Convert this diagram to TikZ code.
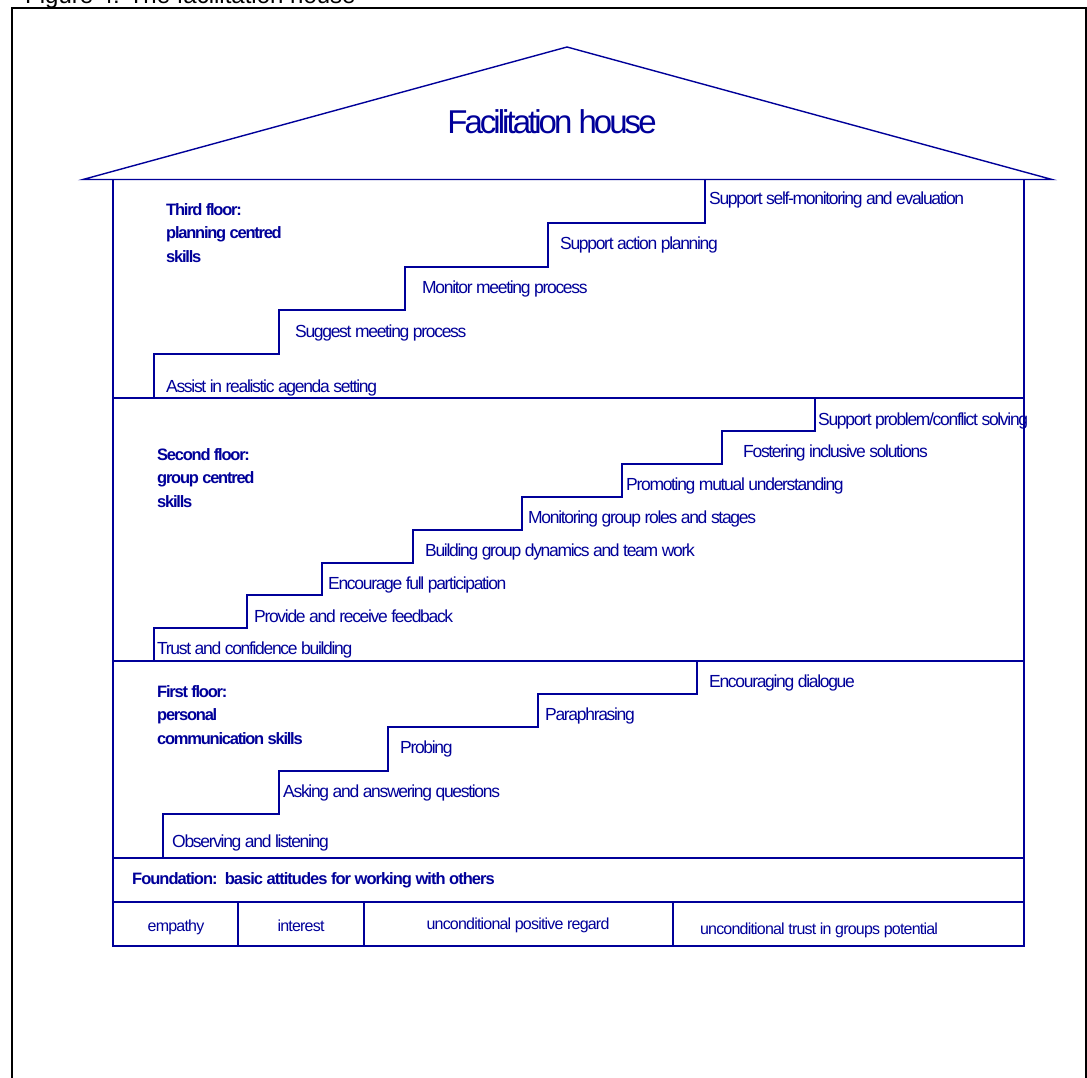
\documentclass[tikz,border=0pt]{standalone}
\usepackage{fontspec}
\setmainfont{Liberation Sans}
\newfontfamily\houseFont[LetterSpace=-7.5]{Liberation Sans}
\definecolor{houseBlue}{RGB}{0,0,153}
\colorlet{frameColor}{black}
\tikzset{
  houseLine/.style={houseBlue,line width=1.4pt},
  stepLabel/.style={anchor=base west,inner sep=0pt,text=houseBlue,font=\houseFont\fontsize{17.5}{20}\selectfont},
  floorHead/.style={anchor=base west,inner sep=0pt,align=left,text=houseBlue,font=\houseFont\bfseries\fontsize{16.5}{23.5}\selectfont},
  attitude/.style={anchor=base,inner sep=0pt,text=houseBlue,font=\houseFont\addfontfeatures{LetterSpace=-5}\fontsize{16}{18}\selectfont}
}
\begin{document}
\begin{tikzpicture}[x=1pt,y=-1pt]
\useasboundingbox (0,0) rectangle (1087,1078);
\clip (0,0) rectangle (1087,1078);
% caption and frame
\node[anchor=base west,inner sep=0pt,font=\fontsize{24}{28}\selectfont] (caption) at (25,4) {Figure 4: The facilitation house};
\draw[frameColor,line width=2pt] (11.5,1100) -- (11.5,8) -- (1085.5,8) -- (1085.5,1100);
% roof
\draw[houseLine] (83,179.5) -- (567,47) -- (1052,179.5) -- cycle;
\node[anchor=base,inner sep=0pt,text=houseBlue,font=\houseFont\addfontfeatures{LetterSpace=-9}\fontsize{33}{36}\selectfont] (title) at (552,134) {Facilitation house};
% walls and floors
\draw[houseLine] (113,179.5) -- (113,946) -- (1024,946) -- (1024,179.5);
\draw[houseLine] (113,398) -- (1024,398);
\draw[houseLine] (113,661) -- (1024,661);
\draw[houseLine] (113,858) -- (1024,858);
\draw[houseLine] (113,902) -- (1024,902);
\draw[houseLine] (238,902) -- (238,946) (364,902) -- (364,946) (673,902) -- (673,946);
% third floor (node base = last line)
\node[floorHead] (thirdHead) at (166,262) {Third floor:\\planning centred\\skills};
\draw[houseLine] (154,398) |- (279,354) |- (405,310) |- (548,267) |- (705,223) -- (705,179.5);
\node[stepLabel] (agenda) at (166,392) {Assist in realistic agenda setting};
\node[stepLabel] (suggest) at (295,337) {Suggest meeting process};
\node[stepLabel] (monitor) at (422,293) {Monitor meeting process};
\node[stepLabel] (action) at (560,249) {Support action planning};
\node[stepLabel] (evaluation) at (709,205) {Support self-monitoring and evaluation};
% second floor
\node[floorHead] (secondHead) at (157,507) {Second floor:\\group centred\\skills};
\draw[houseLine] (154,661) |- (247,628) |- (322,595) |- (413,563) |- (522,530) |- (622,497) |- (722,464) |- (815,431) -- (815,398);
\node[stepLabel] (trust) at (157,654) {Trust and confidence building};
\node[stepLabel] (feedback) at (254,622) {Provide and receive feedback};
\node[stepLabel] (participation) at (328,589) {Encourage full participation};
\node[stepLabel] (dynamics) at (425,556) {Building group dynamics and team work};
\node[stepLabel] (roles) at (528,523) {Monitoring group roles and stages};
\node[stepLabel] (mutual) at (626,490) {Promoting mutual understanding};
\node[stepLabel] (inclusive) at (743,457) {Fostering inclusive solutions};
\node[stepLabel] (conflict) at (818,425) {Support problem/conflict solving};
% first floor
\node[floorHead] (firstHead) at (157,744) {First floor:\\personal\\communication skills};
\draw[houseLine] (163,858) |- (279,814) |- (388,771) |- (538,727) |- (697,694) -- (697,661);
\node[stepLabel] (observing) at (172,847) {Observing and listening};
\node[stepLabel] (asking) at (283,797) {Asking and answering questions};
\node[stepLabel] (probing) at (400,753) {Probing};
\node[stepLabel] (paraphrasing) at (545,720) {Paraphrasing};
\node[stepLabel] (dialogue) at (709,687) {Encouraging dialogue};
% foundation
\node[floorHead,font=\houseFont\bfseries\addfontfeatures{LetterSpace=-6}\fontsize{16.5}{20}\selectfont] (foundation) at (132,884) {Foundation:\ \ basic attitudes for working with others};
\node[attitude] (empathy) at (176,931) {empathy};
\node[attitude] (interest) at (301,931) {interest};
\node[attitude] (regard) at (518,929) {unconditional positive regard};
\node[attitude] (potential) at (819,934) {unconditional trust in groups potential};
\end{tikzpicture}
\end{document}
